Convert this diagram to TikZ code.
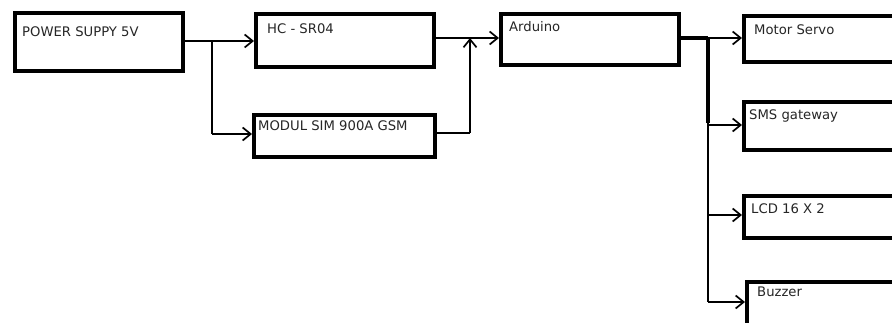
\documentclass[tikz,border=0pt]{standalone}
\usepackage{fontspec}
\setmainfont{DejaVu Sans}
\usetikzlibrary{arrows.meta}
\begin{document}
\begin{tikzpicture}[x=1pt,y=-1pt,
  blk/.style={draw=black,line width=4.2pt,rectangle,inner sep=0pt,anchor=north west},
  lbl/.style={inner sep=0pt,anchor=base west,text=black!85,font=\fontsize{13.2}{15}\selectfont},
  conn/.style={line width=1.7pt,-{Straight Barb[length=8pt,width=13pt,line width=1.7pt]}},
  thin/.style={line width=1.7pt},
  thick/.style={line width=4pt}]
\clip (0,0) rectangle (892,323);
\fill[white] (0,0) rectangle (892,323);
% boxes (north west corner of path, width, height)
\node[blk,minimum width=168pt,minimum height=58pt] (power) at (13,11) {};
\node[blk,minimum width=178pt,minimum height=53pt] (hc) at (254,12) {};
\node[blk,minimum width=181pt,minimum height=42pt] (modul) at (252,113) {};
\node[blk,minimum width=178pt,minimum height=51pt] (ard) at (499,12) {};
\node[blk,minimum width=170pt,minimum height=46pt] (motor) at (742,14) {};
\node[blk,minimum width=170pt,minimum height=48pt] (sms) at (742,100) {};
\node[blk,minimum width=170pt,minimum height=42pt] (lcd) at (742,194) {};
\node[blk,minimum width=170pt,minimum height=60pt] (buzz) at (745,280) {};
% labels
\node[lbl] (tpower) at (22,37) {POWER SUPPY 5V};
\node[lbl] (thc) at (267,34) {HC - SR04};
\node[lbl] (tmodul) at (258,131) {MODUL SIM 900A GSM};
\node[lbl] (tard) at (509,32) {Arduino};
\node[lbl] (tmotor) at (754,35) {Motor Servo};
\node[lbl] (tsms) at (749,120) {SMS gateway};
\node[lbl] (tlcd) at (751,214) {LCD 16 X 2};
\node[lbl] (tbuzz) at (757,297) {Buzzer};
% junction coordinates
\coordinate (j1) at (212,41);
\coordinate (j1b) at (212,134);
\coordinate (j2) at (470,38);
\coordinate (j2b) at (470,133);
\coordinate (j3) at (708,38);
\coordinate (j3m) at (708,123);
\coordinate (j3s) at (708,125);
\coordinate (j3l) at (708,215);
\coordinate (j3b) at (708,302);
% connectors
\draw[thin] (power.east |- j1) -- (j1);
\draw[conn] (j1) -- (hc.west |- j1);
\draw[thin] (j1) -- (j1b);
\draw[conn] (j1b) -- (modul.west |- j1b);
\draw[thin] (hc.east |- j2) -- (j2);
\draw[conn] (j2) -- (ard.west |- j2);
\draw[thin] (modul.east |- j2b) -- (j2b);
\draw[conn] (j2b) -- (j2);
\draw[thick] (ard.east |- j3) -- (j3);
\draw[conn] (j3) -- (motor.west |- j3);
\draw[thick] (j3) -- (j3m);
\draw[thin] (j3m) -- (j3b);
\draw[conn] (j3s) -- (sms.west |- j3s);
\draw[conn] (j3l) -- (lcd.west |- j3l);
\draw[conn] (j3b) -- (buzz.west |- j3b);
\end{tikzpicture}
\end{document}
